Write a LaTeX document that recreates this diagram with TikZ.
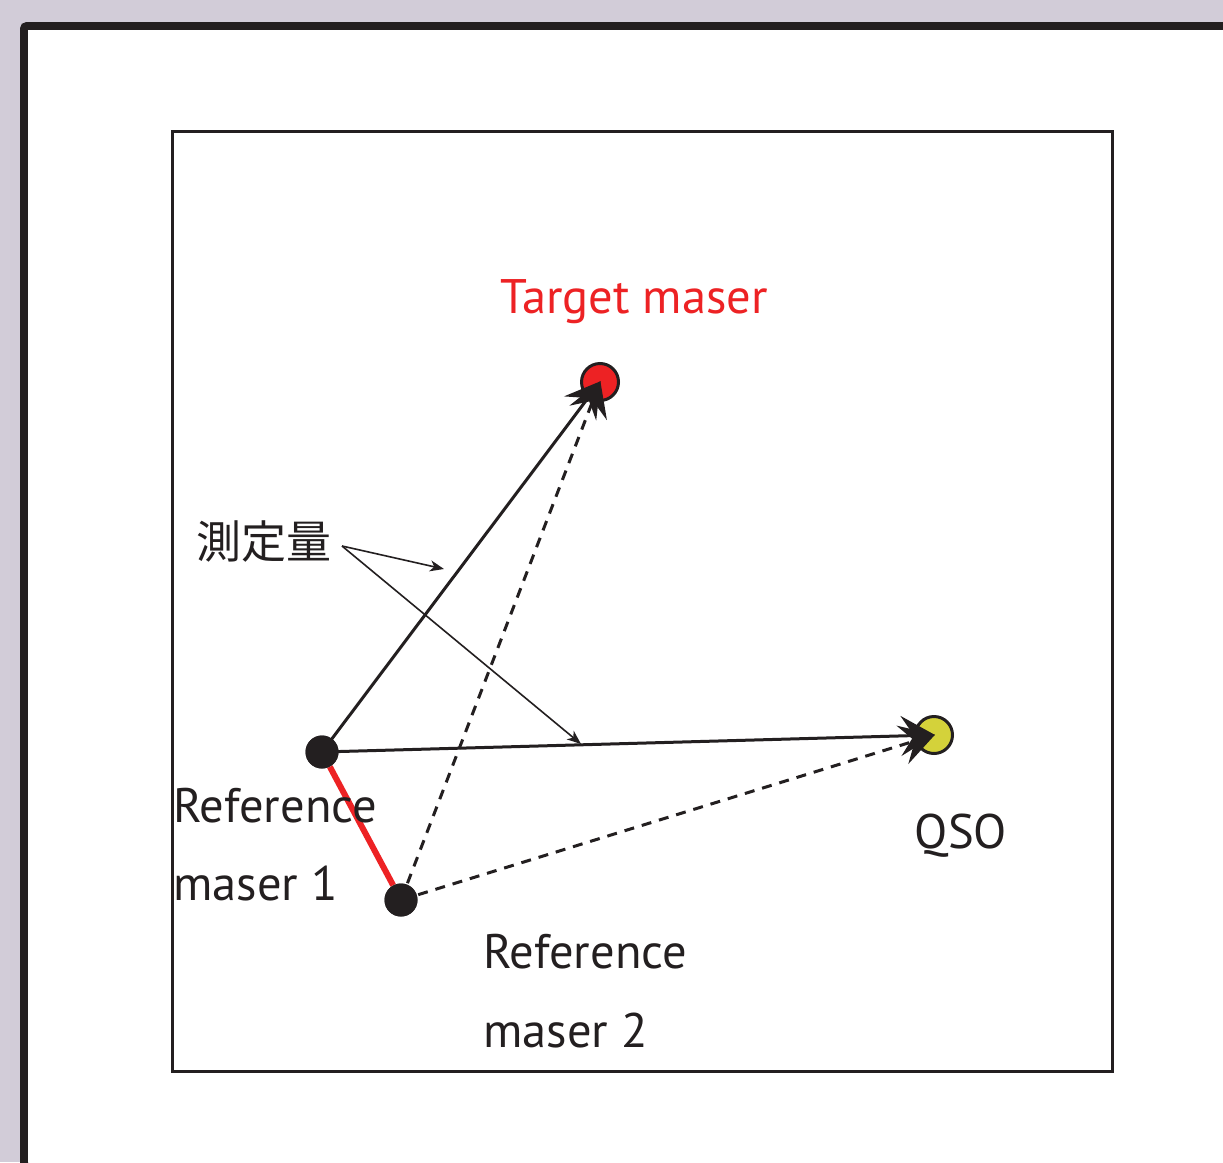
\documentclass[tikz,border=0pt]{standalone}
\usepackage{fontspec}
\setmainfont{PT Sans}
\newfontfamily\cjk{Noto Sans CJK JP}
\usetikzlibrary{arrows.meta}
\definecolor{ink}{HTML}{231F20}
\definecolor{mred}{HTML}{ED2224}
\definecolor{qyel}{HTML}{D4D23A}
\definecolor{lav}{HTML}{D2CCD8}
\tikzset{
  x=1pt, y=-1pt,
  src/.style={circle, fill=ink, minimum size=33pt, inner sep=0pt},
  tgt/.style={circle, draw=ink, line width=3pt, minimum size=37pt, inner sep=0pt},
  bigtip/.style={-{Stealth[length=34pt,width=40pt,inset=13pt]}},
  vec/.style={draw=ink, line width=3pt, bigtip, shorten >=-1pt},
  dvec/.style={vec, dash pattern=on 10pt off 8pt},
  note/.style={draw=ink, line width=1.6pt, -{Stealth[length=14pt,width=11pt,inset=4pt]}},
  lbl/.style={font=\fontsize{48.5}{58}\selectfont, text=ink, inner sep=0pt}
}
\begin{document}
\begin{tikzpicture}
\useasboundingbox (0,0) rectangle (1223,1162);
% backdrop and page sheet
\fill[lav] (0,0) rectangle (1223,1162);
\draw[ink, line width=8pt, fill=white, rounded corners=3pt] (24,1200) -- (24,26) -- (1260,26);
\fill[white] (28,30) rectangle (1223,1162);
% frame
\draw[ink, line width=3pt] (172,131) rectangle (1112,1071);

% sources
\node[tgt, fill=mred] (T) at (600,382) {};
\node[tgt, fill=qyel] (Q) at (934,735) {};
\node[src] (R1) at (322,752) {};
\node[src] (R2) at (401,900) {};

% baseline between references
\draw[mred, line width=6pt] (R1) -- (R2);

% measured vectors
\draw[dvec] (R2.center) -- (T.center);
\draw[dvec] (R2.center) -- (Q.center);
\draw[vec] (R1.center) -- (T.center);
\draw[vec] (R1.center) -- (Q.center);
\node[src] at (R1) {};
\node[src] at (R2) {};

% labels
\node[lbl, text=mred, anchor=base] (tl) at (634,313) {Target maser};
\node[lbl, anchor=base west] (r1a) at (173,822) {Reference};
\node[lbl, anchor=base west] (r1b) at (173,900) {maser 1};
\node[lbl, anchor=base west] (r2a) at (483,968) {Reference};
\node[lbl, anchor=base west] (r2b) at (483,1047) {maser 2};
\node[lbl, anchor=base] (ql) at (961,848) {QSO};
\node[inner sep=0pt, text=ink, font=\cjk\fontsize{45}{50}\selectfont] (ml) at (264,542) {測定量};

\coordinate (m0) at (342,546);
\coordinate (m1) at (444,569);
\coordinate (m2) at (581,744);
\draw[note] (m0) -- (m1);
\draw[note] (m0) -- (m2);
\end{tikzpicture}
\end{document}
